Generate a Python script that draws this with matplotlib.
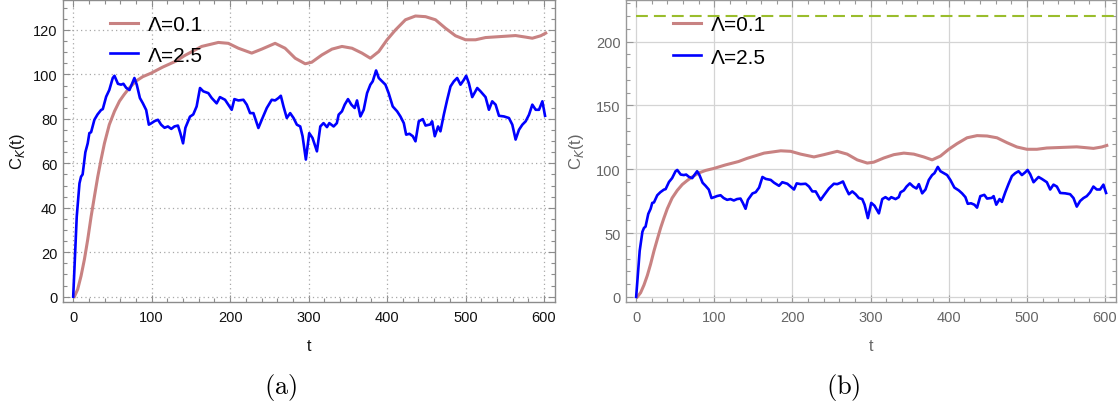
import matplotlib
matplotlib.use("Agg")
import matplotlib.pyplot as plt
from matplotlib.ticker import MultipleLocator

plt.rcParams['font.family'] = ['Liberation Sans', 'DejaVu Sans']

# Lambda = 2.5 (fast, noisy)
t_fast = [0, 4.5, 8, 10, 12, 15.5, 18.5, 20.6, 22.8, 27, 31, 35.5, 37.7, 42, 46, 50.4, 52.6,
          57, 61, 64, 67.5, 71.7, 76, 78, 81, 85, 88.8, 93, 96.4, 99.4, 103.7, 108, 112, 116.4,
          120.7, 125, 129, 133.5, 136.5, 140, 143, 148.8, 153, 157.3, 161.6, 165.8, 172.2,
          176.5, 182.8, 187, 193.5, 197.7, 202, 205.4, 210.5, 216.9, 221.2, 225.4, 229.7,
          231.8, 236, 240.3, 246.7, 253, 257.3, 261.6, 264.6, 268, 272.2, 276.5, 280.8, 285,
          289.3, 292.3, 296.5, 300.8, 305, 310.6, 314.9, 319, 323.4, 326.4, 331.9, 336, 338.3,
          342.5, 346, 350.2, 354.5, 358.7, 361.7, 366, 370.2, 374.5, 378.7, 381.7, 386, 389.4,
          393.6, 397.9, 402, 407.2, 412.8, 417, 421.3, 424.3, 428.5, 432.8, 436.2, 440.4,
          445.5, 449, 455, 457.4, 460.8, 465, 468, 472.3, 476.6, 480.8, 485.1, 489.3, 493.6,
          497.9, 500.8, 504.2, 508.5, 514.9, 519.1, 525.5, 529.8, 534, 538.3, 542.6, 549,
          555.3, 559.6, 563.8, 568.1, 572.4, 576.6, 580.9, 585.1, 589.4, 593.6, 597.9, 601.3]
c_fast = [0, 36, 51, 54, 55, 65, 69, 73.6, 74, 79.6, 82, 84, 84.4, 90, 93, 98.4, 99.4,
          95.8, 95.4, 95.8, 94, 93, 96.7, 98.4, 95.4, 89.4, 87, 84, 77.4, 78, 79, 79.6, 77.4, 76,
          76.6, 75.5, 76.6, 77, 73.6, 69, 76, 81, 82, 85.6, 93.9, 92.4, 91.6,
          89.4, 87, 89.8, 88.6, 86.4, 84.1, 88.9, 88.3, 88.6, 86.4, 82.6, 82.6,
          80.4, 75.9, 79.6, 84.9, 88.6, 88.3, 89.4, 90.4, 85.6, 80.4, 82.6, 80.4, 77.4,
          76.6, 72.2, 61.7, 73.6, 71.4, 65.4, 76.6, 78.1, 76.3, 78.1, 76.6, 78.1, 81.9,
          83.4, 86.4, 88.9, 86.4, 84.9, 88.3, 81.1, 84.1, 91.6, 95.4, 96.9, 101.8, 98.4,
          96.9, 95.4, 91.6, 85.6, 83.4, 81.1, 78.1, 72.9, 73.3, 72.2, 69.9, 78.9,
          79.9, 77, 77.5, 78.9, 72.2, 76.6, 74.4, 81.9, 88.6, 94.6, 96.9, 98.4, 95.4,
          97.6, 99.4, 96.1, 89.8, 93.9, 92.4, 89.8, 84.1, 87.9, 86.4, 81.4, 81.1,
          80.4, 77.4, 70.7, 75.1, 77.4, 78.9, 81.9, 86.4, 84.1, 84.1, 87.9, 81.4]

# Lambda = 0.1 (slow, smooth)
t_slow = [1.5, 5.7, 10, 14.3, 18.5, 22.8, 27, 31.3, 35.5, 39.8, 46, 52.6, 59, 65, 71.7, 80,
          88.7, 99.4, 114, 131, 142, 163.7, 185, 197.7, 210.5, 227.5, 240.3, 257.3, 270,
          282.9, 295.7, 304, 317, 329.8, 342.5, 355.3, 368, 378.7, 389.4, 400, 410.6, 423.4,
          436.2, 449, 461.7, 474.4, 487.2, 500, 512.8, 525.5, 542.6, 563.8, 576.6, 585.1,
          595.8, 602.2]
c_slow = [0, 3.3, 9.3, 16.8, 25.7, 36, 45, 54, 61.7, 69, 77.4, 83.4, 88, 91, 94, 97,
          99, 100.6, 103.3, 106, 108.5, 112.6, 114.4, 114, 111.8, 109.6, 111.4, 114, 111.8,
          107.3, 104.8, 105.5, 108.8, 111.4, 112.6, 111.8, 109.6, 107.3, 110.3, 115.6, 120, 124.6,
          126.3, 126, 124.6, 120.8, 117.4, 115.6, 115.6, 116.6, 117, 117.5, 116.8, 116.3,
          117.4, 118.6]

bound = 220
labels = ['Λ=0.1', 'Λ=2.5']

fig = plt.figure(figsize=(11.18, 4.06), dpi=100)
W, H = 1118, 406
ax1 = fig.add_axes([63 / W, 1 - 303 / H, 492 / W, 302 / H])
ax2 = fig.add_axes([626 / W, 1 - 303 / H, 490 / W, 302 / H])

brown = '#C88282'


def style(ax, txt, spine, ymajor, yminor):
    ax.set_xlim(-13, 614)
    ax.xaxis.set_major_locator(MultipleLocator(100))
    ax.xaxis.set_minor_locator(MultipleLocator(20))
    ax.yaxis.set_major_locator(MultipleLocator(ymajor))
    ax.yaxis.set_minor_locator(MultipleLocator(yminor))
    ax.tick_params(which='both', direction='in', top=True, right=True, color=spine,
                   labelcolor=txt, labelsize=10.5, width=0.8)
    ax.tick_params(which='major', length=5)
    ax.tick_params(which='minor', length=3)
    ax.tick_params(axis='x', pad=6)
    ax.tick_params(axis='y', pad=4)
    for s in ax.spines.values():
        s.set_color(spine)
        s.set_linewidth(1.0)
    ax.set_xlabel('t', fontsize=11.5, color=txt)
    ax.set_ylabel('C$_K$(t)', fontsize=12, color=txt)
    ax.xaxis.set_label_coords(0.5, -0.118)


def add_legend(ax, spacing):
    ax.legend(loc='upper left', bbox_to_anchor=(0.095, 0.95), frameon=False, fontsize=15,
              borderpad=0, borderaxespad=0, handlelength=1.35, handletextpad=0.48,
              labelspacing=spacing)


# (a)
ax1.plot(t_slow, c_slow, color=brown, lw=2.2, label=labels[0])
ax1.plot(t_fast, c_fast, color='blue', lw=1.9, label=labels[1])
ax1.set_ylim(-2.4, 133.5)
ax1.grid(True, which='major', linestyle=(0, (1, 2.5)), color='#a8a8a8', lw=0.9)
style(ax1, '#111111', '#8c8c8c', 20, 5)
ax1.yaxis.set_label_coords(-0.073, 0.5)
add_legend(ax1, 0.55)

# (b)
ax2.axhline(bound, xmin=13 / 627, color='#9ABD2C', lw=1.5, dashes=(5.7, 2.9))
ax2.plot(t_slow, c_slow, color=brown, lw=2.2, label=labels[0])
ax2.plot(t_fast, c_fast, color='blue', lw=1.9, label=labels[1])
ax2.set_ylim(-4, 232.5)
ax2.grid(True, which='major', linestyle='-', color='#d4d4d4', lw=0.9)
style(ax2, '#666666', '#999999', 50, 10)
ax2.yaxis.set_label_coords(-0.081, 0.5)
add_legend(ax2, 0.65)

fig.text(281 / W, 1 - 388 / H, r'$\mathrm{(a)}$', math_fontfamily='cm', fontsize=19,
         ha='center', va='center')
fig.text(843 / W, 1 - 388 / H, r'$\mathrm{(b)}$', math_fontfamily='cm', fontsize=19,
         ha='center', va='center')

fig.savefig('out.png', dpi=100)
